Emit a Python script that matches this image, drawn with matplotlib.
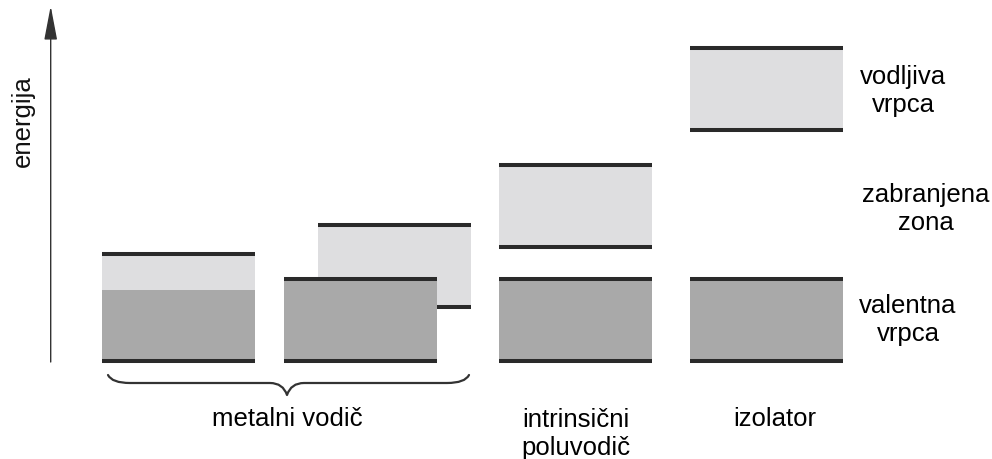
import matplotlib
matplotlib.use("Agg")
import matplotlib.pyplot as plt
from matplotlib.patches import Rectangle, PathPatch
from matplotlib.path import Path
import numpy as np

plt.rcParams['font.family'] = ['Liberation Sans', 'DejaVu Sans']

# ---- data (energy levels, arbitrary units) ----
columns = ['metal_a', 'metal_b', 'intrinsic', 'insulator']
lower_band_bottom = [0, 0, 0, 0]
lower_band_top = [107, 82, 82, 82]
lower_band_filled = [71, 82, 82, 82]
upper_band_bottom = [np.nan, 54, 114, 231]
upper_band_top = [np.nan, 136, 196, 313]

group_labels = ['metalni vodič', 'intrinsični\npoluvodič', 'izolator']
band_labels = ['vodljiva\nvrpca', 'zabranjena\nzona', 'valentna\nvrpca']
band_label_energy = [270, 152, 41]
axis_label = 'energija'

# ---- layout ----
col_left = [102, 284, 499, 690]
upper_offset = [0, 34, 0, 0]
box_w = 153
group_x = [287, 576, 775]
band_label_x = [903, 926, 908]
fs = 18.5

light = '#DEDEE0'
dark = '#A9A9A9'
edge = '#2A2A2A'
lw_band = 2.9

fig = plt.figure(figsize=(9.92, 4.59), dpi=100)
ax = fig.add_axes([0, 0, 1, 1])
ax.set_xlim(0, 992)
ax.set_ylim(-98, 361)
ax.axis('off')


def hline(x0, x1, y, z):
    ax.plot([x0, x1], [y, y], color=edge, lw=lw_band, solid_capstyle='butt', zorder=z)


for i in range(len(columns)):
    # upper band (drawn behind)
    if not np.isnan(upper_band_bottom[i]):
        x0 = col_left[i] + upper_offset[i]
        ax.add_patch(Rectangle((x0, upper_band_bottom[i]), box_w,
                               upper_band_top[i] - upper_band_bottom[i],
                               facecolor=light, edgecolor='none', zorder=1))
        hline(x0, x0 + box_w, upper_band_bottom[i], 2)
        hline(x0, x0 + box_w, upper_band_top[i], 2)
    x0 = col_left[i]
    # lower band
    ax.add_patch(Rectangle((x0, lower_band_bottom[i]), box_w,
                           lower_band_top[i] - lower_band_bottom[i],
                           facecolor=light, edgecolor='none', zorder=3))
    ax.add_patch(Rectangle((x0, lower_band_bottom[i]), box_w,
                           lower_band_filled[i] - lower_band_bottom[i],
                           facecolor=dark, edgecolor='none', zorder=3))
    hline(x0, x0 + box_w, lower_band_bottom[i], 4)
    hline(x0, x0 + box_w, lower_band_top[i], 4)

# energy axis arrow
ax.annotate('', xy=(50.7, 355), xytext=(50.7, -1),
            arrowprops=dict(arrowstyle='-|>,head_length=1.05,head_width=0.2',
                            lw=1.0, color='#333333', mutation_scale=20,
                            shrinkA=0, shrinkB=0))
ax.text(23, 240, axis_label, rotation=90, ha='center', va='center', fontsize=fs,
        color='#111111')


def E(ypx):
    return 361 - ypx


# brace under the two metal diagrams
verts = [(108, E(375)), (112, E(383)), (130, E(383)),
         (270, E(383)),
         (283, E(383)), (287, E(395)),
         (291, E(383)), (304, E(383)),
         (447, E(383)),
         (465, E(383)), (469, E(375))]
codes = [Path.MOVETO, Path.CURVE3, Path.CURVE3,
         Path.LINETO,
         Path.CURVE3, Path.CURVE3,
         Path.CURVE3, Path.CURVE3,
         Path.LINETO,
         Path.CURVE3, Path.CURVE3]
ax.add_patch(PathPatch(Path(verts, codes), facecolor='none', edgecolor='#333333',
                       lw=1.6, capstyle='round', joinstyle='round'))

# group labels
ax.text(group_x[0], E(419), group_labels[0], ha='center', va='center', fontsize=fs)
ax.text(group_x[1], E(434), group_labels[1], ha='center', va='center', fontsize=fs,
        linespacing=1.22)
ax.text(group_x[2], E(419), group_labels[2], ha='center', va='center', fontsize=fs)

# band labels
for lab, x, e in zip(band_labels, band_label_x, band_label_energy):
    ax.text(x, e, lab, ha='center', va='center', fontsize=fs, linespacing=1.22)

fig.savefig('out.png', dpi=100)
